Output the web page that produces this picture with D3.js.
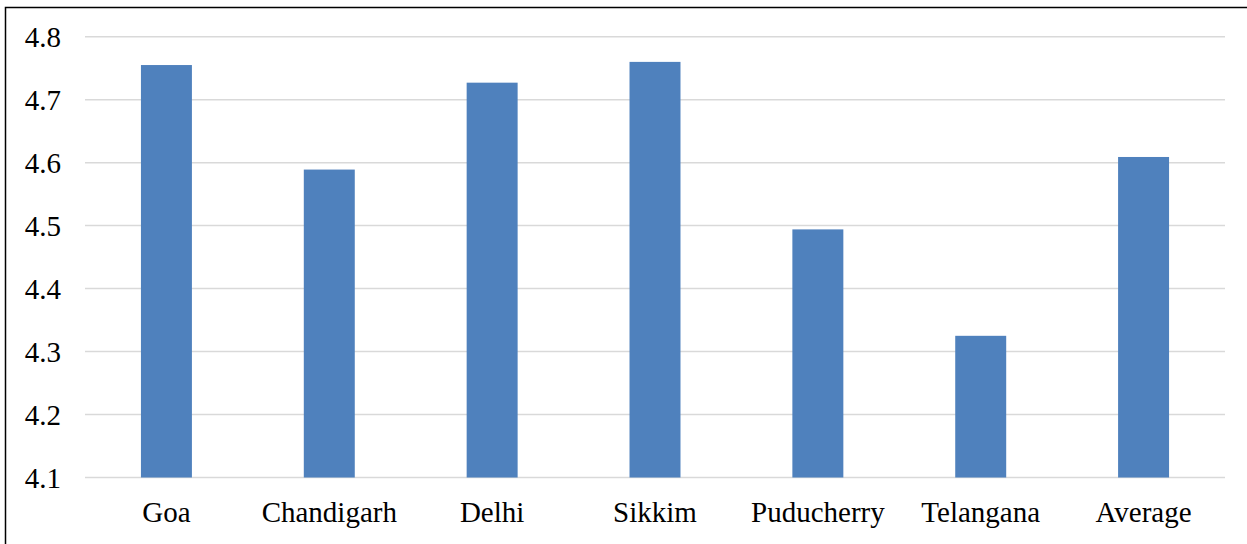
<!DOCTYPE html>
<html>
<head>
<meta charset="utf-8">
<script src="https://cdn.jsdelivr.net/npm/d3@7"></script>
<style>
  html, body { margin: 0; padding: 0; background: #fff; }
  svg { display: block; }
</style>
</head>
<body>
<svg id="chart" width="1247" height="544"></svg>
<script>
const categories = ["Goa", "Chandigarh", "Delhi", "Sikkim", "Puducherry", "Telangana", "Average"];
const values = [4.755, 4.589, 4.727, 4.760, 4.494, 4.325, 4.609];
const yTicks = [4.1, 4.2, 4.3, 4.4, 4.5, 4.6, 4.7, 4.8];

const W = 1247, H = 544;
const plot = { left: 85, right: 1225, top: 36.7, bottom: 477.5 };
const FONT = "'Liberation Serif', 'Times New Roman', serif";

const svg = d3.select("#chart");

// outer frame
svg.append("rect")
  .attr("x", 5.5).attr("y", 7.5)
  .attr("width", W + 10).attr("height", H + 10)
  .attr("fill", "none").attr("stroke", "#000").attr("stroke-width", 1.5);

const x = d3.scaleBand().domain(categories).range([plot.left, plot.right]).padding(0);
const y = d3.scaleLinear().domain([4.1, 4.8]).range([plot.bottom, plot.top]);
const barW = x.bandwidth() * 0.313;

// horizontal gridlines
svg.append("g")
  .selectAll("line")
  .data(yTicks)
  .join("line")
  .attr("x1", plot.left).attr("x2", plot.right)
  .attr("y1", d => y(d)).attr("y2", d => y(d))
  .attr("stroke", "#d9d9d9").attr("stroke-width", 1.5);

// bars
svg.append("g")
  .selectAll("rect")
  .data(categories.map((c, i) => ({ c, v: values[i] })))
  .join("rect")
  .attr("x", d => x(d.c) + (x.bandwidth() - barW) / 2)
  .attr("width", barW)
  .attr("y", d => y(d.v))
  .attr("height", d => y(4.1) - y(d.v))
  .attr("fill", "#4f81bd");

// y tick labels
const yAxis = d3.axisLeft(y).tickValues(yTicks).tickFormat(d3.format(".1f")).tickSize(0).tickPadding(0);
const gy = svg.append("g").attr("transform", `translate(61,0)`).call(yAxis);
gy.select(".domain").remove();
gy.selectAll("text")
  .attr("font-family", FONT)
  .attr("font-size", 29).attr("fill", "#000")
  .attr("dy", "0.35em");

// category labels
const xAxis = d3.axisBottom(x).tickSize(0).tickPadding(0);
const gx = svg.append("g").call(xAxis);
gx.select(".domain").remove();
gx.selectAll("text")
  .attr("font-family", FONT)
  .attr("font-size", 29).attr("fill", "#000")
  .attr("y", 522).attr("dy", 0);
</script>
</body>
</html>
